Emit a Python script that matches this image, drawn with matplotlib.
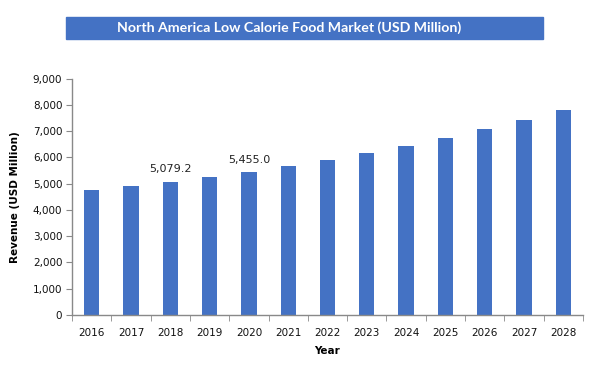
import matplotlib
matplotlib.use("Agg")
import matplotlib.pyplot as plt
from matplotlib.patches import Rectangle
from matplotlib.ticker import FuncFormatter, MultipleLocator
import numpy as np

# dados
anos = ["2016", "2017", "2018", "2019", "2020", "2021", "2022",
        "2023", "2024", "2025", "2026", "2027", "2028"]
receita = [4758, 4910, 5079.2, 5253, 5455.0, 5672, 5900,
           6167, 6433, 6738, 7080, 7423, 7803]
rotulos = {"2018": "5,079.2", "2020": "5,455.0"}

AZUL = "#4472C4"
CINZA = "#898989"

fig = plt.figure(figsize=(6.07, 3.76), dpi=100)
W, H = 607, 376
ax = fig.add_axes([72 / W, 1 - 315 / H, (583 - 72) / W, (315 - 78.6) / H])

x = np.arange(len(anos))
ax.bar(x, receita, width=0.39, color=AZUL, zorder=2)

for i, a in enumerate(anos):
    if a in rotulos:
        ax.text(i, receita[i] + 270, rotulos[a], ha="center", va="bottom",
                fontsize=8, color="#222222")

ax.set_xlim(-0.5, len(anos) - 0.5)
ax.set_ylim(0, 9000)
ax.yaxis.set_major_locator(MultipleLocator(1000))
ax.yaxis.set_major_formatter(FuncFormatter(lambda v, p: f"{int(v):,}"))

ax.set_xticks(x)
ax.set_xticklabels(anos)
ax.set_xticks(np.arange(-0.5, len(anos)), minor=True)
ax.tick_params(axis="x", which="major", length=0, pad=9, labelsize=7.5, colors="#111111")
ax.tick_params(axis="x", which="minor", length=4, color=CINZA, direction="out")
ax.tick_params(axis="y", length=4, color=CINZA, labelsize=7.5, labelcolor="#111111", pad=3)

for lado in ["top", "right"]:
    ax.spines[lado].set_visible(False)
for lado in ["left", "bottom"]:
    ax.spines[lado].set_color(CINZA)
    ax.spines[lado].set_linewidth(1)

ax.set_xlabel("Year", fontsize=7.5, fontweight="bold", labelpad=6)
ax.set_ylabel("Revenue (USD Million)", fontsize=7.5, fontweight="bold", labelpad=9)

# caixa do titulo
fig.patches.append(Rectangle((66 / W, 1 - 39 / H), (543 - 66) / W, 22 / H,
                             transform=fig.transFigure, color=AZUL, zorder=0))
fig.text(289 / W, 1 - 28 / H,
         "North America Low Calorie Food Market (USD Million)",
         ha="center", va="center", color="white", fontsize=10.2,
         fontweight="bold", family="Lato")

fig.savefig("out.png", dpi=100)
